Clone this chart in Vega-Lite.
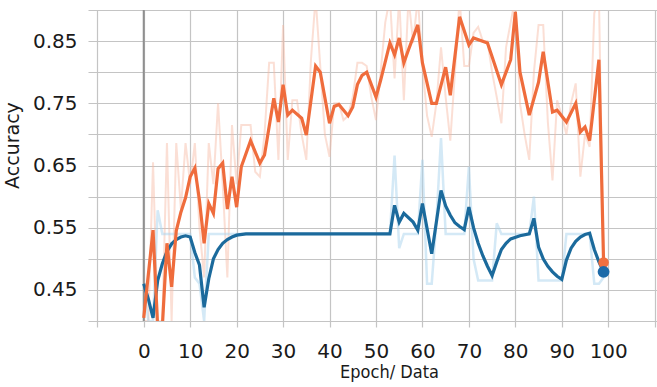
{
  "$schema": "https://vega.github.io/schema/vega-lite/v6.json",
  "width": 569,
  "height": 311,
  "autosize": "none",
  "padding": {"left": 88, "top": 10, "right": 0, "bottom": 66},
  "background": "white",
  "config": {
    "view": {"stroke": null},
    "axis": {
      "labelFont": "DejaVu Sans",
      "labelFontSize": 20,
      "labelColor": "#1a1a1a",
      "titleFont": "DejaVu Sans",
      "titleColor": "#1a1a1a",
      "titleFontWeight": "normal",
      "gridColor": "#c4c4c4",
      "gridWidth": 1.2,
      "gridOpacity": 1,
      "domain": false,
      "tickColor": "#c4c4c4",
      "tickWidth": 1.2
    }
  },
  "datasets": {
    "train_smooth": [
      {"epoch": 0, "accuracy": 0.405}, {"epoch": 2, "accuracy": 0.546}, {"epoch": 3, "accuracy": 0.39}, {"epoch": 4, "accuracy": 0.39},
      {"epoch": 5, "accuracy": 0.525}, {"epoch": 6, "accuracy": 0.455}, {"epoch": 7, "accuracy": 0.545}, {"epoch": 8, "accuracy": 0.575},
      {"epoch": 9, "accuracy": 0.598}, {"epoch": 10, "accuracy": 0.632}, {"epoch": 11, "accuracy": 0.646}, {"epoch": 12, "accuracy": 0.594},
      {"epoch": 13, "accuracy": 0.525}, {"epoch": 14, "accuracy": 0.589}, {"epoch": 15, "accuracy": 0.573}, {"epoch": 16, "accuracy": 0.645},
      {"epoch": 17, "accuracy": 0.654}, {"epoch": 18, "accuracy": 0.58}, {"epoch": 19, "accuracy": 0.632}, {"epoch": 20, "accuracy": 0.583},
      {"epoch": 21, "accuracy": 0.648}, {"epoch": 23, "accuracy": 0.69}, {"epoch": 25, "accuracy": 0.654}, {"epoch": 26, "accuracy": 0.667},
      {"epoch": 28, "accuracy": 0.758}, {"epoch": 29, "accuracy": 0.72}, {"epoch": 30, "accuracy": 0.78}, {"epoch": 31, "accuracy": 0.731},
      {"epoch": 32, "accuracy": 0.739}, {"epoch": 34, "accuracy": 0.726}, {"epoch": 35, "accuracy": 0.699}, {"epoch": 37, "accuracy": 0.81},
      {"epoch": 38, "accuracy": 0.80}, {"epoch": 40, "accuracy": 0.718}, {"epoch": 41, "accuracy": 0.745}, {"epoch": 42, "accuracy": 0.748},
      {"epoch": 44, "accuracy": 0.73}, {"epoch": 45, "accuracy": 0.744}, {"epoch": 46, "accuracy": 0.78}, {"epoch": 47, "accuracy": 0.795},
      {"epoch": 48, "accuracy": 0.80}, {"epoch": 50, "accuracy": 0.76}, {"epoch": 51, "accuracy": 0.787}, {"epoch": 53, "accuracy": 0.847},
      {"epoch": 54, "accuracy": 0.828}, {"epoch": 55, "accuracy": 0.855}, {"epoch": 56, "accuracy": 0.815}, {"epoch": 57, "accuracy": 0.836},
      {"epoch": 59, "accuracy": 0.876}, {"epoch": 60, "accuracy": 0.815}, {"epoch": 62, "accuracy": 0.75}, {"epoch": 63, "accuracy": 0.75},
      {"epoch": 65, "accuracy": 0.808}, {"epoch": 66, "accuracy": 0.763}, {"epoch": 68, "accuracy": 0.889}, {"epoch": 70, "accuracy": 0.844},
      {"epoch": 71, "accuracy": 0.855}, {"epoch": 74, "accuracy": 0.847}, {"epoch": 75, "accuracy": 0.825}, {"epoch": 77, "accuracy": 0.78},
      {"epoch": 79, "accuracy": 0.82}, {"epoch": 80, "accuracy": 0.897}, {"epoch": 81, "accuracy": 0.80}, {"epoch": 83, "accuracy": 0.731},
      {"epoch": 85, "accuracy": 0.784}, {"epoch": 86, "accuracy": 0.833}, {"epoch": 88, "accuracy": 0.736}, {"epoch": 89, "accuracy": 0.739},
      {"epoch": 91, "accuracy": 0.72}, {"epoch": 93, "accuracy": 0.75}, {"epoch": 94, "accuracy": 0.704}, {"epoch": 95, "accuracy": 0.712},
      {"epoch": 96, "accuracy": 0.69}, {"epoch": 98, "accuracy": 0.82}, {"epoch": 99, "accuracy": 0.494}
    ],
    "train_raw": [
      {"epoch": 0, "accuracy": 0.40}, {"epoch": 1, "accuracy": 0.40}, {"epoch": 2, "accuracy": 0.655}, {"epoch": 3, "accuracy": 0.40},
      {"epoch": 4, "accuracy": 0.40}, {"epoch": 5, "accuracy": 0.686}, {"epoch": 6, "accuracy": 0.40}, {"epoch": 7, "accuracy": 0.686},
      {"epoch": 8, "accuracy": 0.58}, {"epoch": 9, "accuracy": 0.686}, {"epoch": 10, "accuracy": 0.62}, {"epoch": 11, "accuracy": 0.686},
      {"epoch": 12, "accuracy": 0.55}, {"epoch": 13, "accuracy": 0.47}, {"epoch": 14, "accuracy": 0.686}, {"epoch": 15, "accuracy": 0.62},
      {"epoch": 16, "accuracy": 0.75}, {"epoch": 17, "accuracy": 0.62}, {"epoch": 18, "accuracy": 0.47}, {"epoch": 19, "accuracy": 0.715},
      {"epoch": 20, "accuracy": 0.62}, {"epoch": 21, "accuracy": 0.715}, {"epoch": 22, "accuracy": 0.715}, {"epoch": 23, "accuracy": 0.715},
      {"epoch": 24, "accuracy": 0.64}, {"epoch": 25, "accuracy": 0.632}, {"epoch": 26, "accuracy": 0.70}, {"epoch": 27, "accuracy": 0.815},
      {"epoch": 28, "accuracy": 0.815}, {"epoch": 29, "accuracy": 0.659}, {"epoch": 30, "accuracy": 0.876}, {"epoch": 31, "accuracy": 0.659},
      {"epoch": 32, "accuracy": 0.755}, {"epoch": 33, "accuracy": 0.755}, {"epoch": 34, "accuracy": 0.70}, {"epoch": 35, "accuracy": 0.659},
      {"epoch": 36, "accuracy": 0.82}, {"epoch": 37, "accuracy": 0.92}, {"epoch": 38, "accuracy": 0.81}, {"epoch": 39, "accuracy": 0.70},
      {"epoch": 40, "accuracy": 0.664}, {"epoch": 41, "accuracy": 0.75}, {"epoch": 42, "accuracy": 0.75}, {"epoch": 43, "accuracy": 0.723},
      {"epoch": 44, "accuracy": 0.73}, {"epoch": 45, "accuracy": 0.76}, {"epoch": 46, "accuracy": 0.815}, {"epoch": 47, "accuracy": 0.815},
      {"epoch": 48, "accuracy": 0.81}, {"epoch": 49, "accuracy": 0.76}, {"epoch": 50, "accuracy": 0.723}, {"epoch": 51, "accuracy": 0.80},
      {"epoch": 52, "accuracy": 0.88}, {"epoch": 53, "accuracy": 0.92}, {"epoch": 54, "accuracy": 0.79}, {"epoch": 55, "accuracy": 0.92},
      {"epoch": 56, "accuracy": 0.755}, {"epoch": 57, "accuracy": 0.92}, {"epoch": 58, "accuracy": 0.847}, {"epoch": 59, "accuracy": 0.92},
      {"epoch": 60, "accuracy": 0.81}, {"epoch": 61, "accuracy": 0.73}, {"epoch": 62, "accuracy": 0.696}, {"epoch": 63, "accuracy": 0.75},
      {"epoch": 64, "accuracy": 0.84}, {"epoch": 65, "accuracy": 0.76}, {"epoch": 66, "accuracy": 0.69}, {"epoch": 67, "accuracy": 0.80},
      {"epoch": 68, "accuracy": 0.92}, {"epoch": 69, "accuracy": 0.81}, {"epoch": 70, "accuracy": 0.81}, {"epoch": 71, "accuracy": 0.863},
      {"epoch": 72, "accuracy": 0.873}, {"epoch": 73, "accuracy": 0.85}, {"epoch": 74, "accuracy": 0.85}, {"epoch": 75, "accuracy": 0.80},
      {"epoch": 76, "accuracy": 0.76}, {"epoch": 77, "accuracy": 0.718}, {"epoch": 78, "accuracy": 0.84}, {"epoch": 79, "accuracy": 0.88},
      {"epoch": 80, "accuracy": 0.92}, {"epoch": 81, "accuracy": 0.75}, {"epoch": 82, "accuracy": 0.70}, {"epoch": 83, "accuracy": 0.659},
      {"epoch": 84, "accuracy": 0.80}, {"epoch": 85, "accuracy": 0.876}, {"epoch": 86, "accuracy": 0.876}, {"epoch": 87, "accuracy": 0.72},
      {"epoch": 88, "accuracy": 0.626}, {"epoch": 89, "accuracy": 0.755}, {"epoch": 90, "accuracy": 0.73}, {"epoch": 91, "accuracy": 0.70},
      {"epoch": 92, "accuracy": 0.75}, {"epoch": 93, "accuracy": 0.782}, {"epoch": 94, "accuracy": 0.632}, {"epoch": 95, "accuracy": 0.70},
      {"epoch": 96, "accuracy": 0.68}, {"epoch": 97, "accuracy": 0.895}, {"epoch": 98, "accuracy": 0.92}, {"epoch": 99, "accuracy": 0.49}
    ],
    "val_smooth": [
      {"epoch": 0, "accuracy": 0.46}, {"epoch": 1, "accuracy": 0.435}, {"epoch": 2, "accuracy": 0.405}, {"epoch": 3, "accuracy": 0.465},
      {"epoch": 4, "accuracy": 0.492}, {"epoch": 5, "accuracy": 0.512}, {"epoch": 6, "accuracy": 0.524}, {"epoch": 7, "accuracy": 0.531},
      {"epoch": 8, "accuracy": 0.535}, {"epoch": 9, "accuracy": 0.537}, {"epoch": 10, "accuracy": 0.535}, {"epoch": 11, "accuracy": 0.51},
      {"epoch": 12, "accuracy": 0.49}, {"epoch": 13, "accuracy": 0.422}, {"epoch": 14, "accuracy": 0.468}, {"epoch": 15, "accuracy": 0.5},
      {"epoch": 16, "accuracy": 0.515}, {"epoch": 17, "accuracy": 0.525}, {"epoch": 18, "accuracy": 0.531}, {"epoch": 19, "accuracy": 0.535},
      {"epoch": 20, "accuracy": 0.538}, {"epoch": 22, "accuracy": 0.54}, {"epoch": 53, "accuracy": 0.54}, {"epoch": 54, "accuracy": 0.586},
      {"epoch": 55, "accuracy": 0.559}, {"epoch": 56, "accuracy": 0.573}, {"epoch": 58, "accuracy": 0.559}, {"epoch": 59, "accuracy": 0.546},
      {"epoch": 60, "accuracy": 0.589}, {"epoch": 62, "accuracy": 0.508}, {"epoch": 64, "accuracy": 0.61}, {"epoch": 65, "accuracy": 0.585},
      {"epoch": 66, "accuracy": 0.57}, {"epoch": 67, "accuracy": 0.558}, {"epoch": 68, "accuracy": 0.552}, {"epoch": 69, "accuracy": 0.547},
      {"epoch": 70, "accuracy": 0.583}, {"epoch": 71, "accuracy": 0.55}, {"epoch": 72, "accuracy": 0.525}, {"epoch": 73, "accuracy": 0.505},
      {"epoch": 74, "accuracy": 0.488}, {"epoch": 75, "accuracy": 0.473}, {"epoch": 76, "accuracy": 0.495}, {"epoch": 77, "accuracy": 0.515},
      {"epoch": 78, "accuracy": 0.525}, {"epoch": 79, "accuracy": 0.532}, {"epoch": 81, "accuracy": 0.537}, {"epoch": 83, "accuracy": 0.54},
      {"epoch": 84, "accuracy": 0.565}, {"epoch": 85, "accuracy": 0.519}, {"epoch": 86, "accuracy": 0.5}, {"epoch": 87, "accuracy": 0.488},
      {"epoch": 88, "accuracy": 0.479}, {"epoch": 89, "accuracy": 0.472}, {"epoch": 90, "accuracy": 0.467}, {"epoch": 91, "accuracy": 0.498},
      {"epoch": 92, "accuracy": 0.517}, {"epoch": 93, "accuracy": 0.528}, {"epoch": 94, "accuracy": 0.535}, {"epoch": 95, "accuracy": 0.539},
      {"epoch": 96, "accuracy": 0.541}, {"epoch": 97, "accuracy": 0.515}, {"epoch": 98, "accuracy": 0.495}, {"epoch": 99, "accuracy": 0.479}
    ],
    "val_raw": [
      {"epoch": 0, "accuracy": 0.46}, {"epoch": 1, "accuracy": 0.40}, {"epoch": 2, "accuracy": 0.40}, {"epoch": 3, "accuracy": 0.578},
      {"epoch": 4, "accuracy": 0.54}, {"epoch": 10, "accuracy": 0.54}, {"epoch": 11, "accuracy": 0.47}, {"epoch": 12, "accuracy": 0.46},
      {"epoch": 13, "accuracy": 0.40}, {"epoch": 14, "accuracy": 0.54}, {"epoch": 53, "accuracy": 0.54}, {"epoch": 54, "accuracy": 0.666},
      {"epoch": 55, "accuracy": 0.517}, {"epoch": 56, "accuracy": 0.54}, {"epoch": 59, "accuracy": 0.54}, {"epoch": 60, "accuracy": 0.659},
      {"epoch": 61, "accuracy": 0.46}, {"epoch": 62, "accuracy": 0.46}, {"epoch": 63, "accuracy": 0.56}, {"epoch": 64, "accuracy": 0.694},
      {"epoch": 65, "accuracy": 0.54}, {"epoch": 69, "accuracy": 0.54}, {"epoch": 70, "accuracy": 0.648}, {"epoch": 71, "accuracy": 0.50},
      {"epoch": 72, "accuracy": 0.465}, {"epoch": 75, "accuracy": 0.465}, {"epoch": 76, "accuracy": 0.557}, {"epoch": 77, "accuracy": 0.54},
      {"epoch": 83, "accuracy": 0.54}, {"epoch": 84, "accuracy": 0.60}, {"epoch": 85, "accuracy": 0.465}, {"epoch": 90, "accuracy": 0.465},
      {"epoch": 91, "accuracy": 0.54}, {"epoch": 96, "accuracy": 0.54}, {"epoch": 97, "accuracy": 0.46}, {"epoch": 98, "accuracy": 0.46},
      {"epoch": 99, "accuracy": 0.47}
    ]
  },
  "encoding": {
    "x": {
      "field": "epoch", "type": "quantitative",
      "scale": {"domain": [-12, 110.5], "nice": false, "zero": false},
      "axis": {
        "values": [-10, 0, 10, 20, 30, 40, 50, 60, 70, 80, 90, 100, 110],
        "labelExpr": "datum.value >= 0 && datum.value <= 100 ? datum.label : ''",
        "tickSize": 6,
        "labelPadding": 14,
        "labelBaseline": "top",
        "title": "Epoch/ Data",
        "titleFont": "DejaVu Sans Condensed",
        "titleFontSize": 18,
        "titleX": 301,
        "titleY": 42,
        "titleAnchor": "middle",
        "titleAlign": "center",
        "titleBaseline": "top"
      }
    },
    "y": {
      "field": "accuracy", "type": "quantitative",
      "scale": {"domain": [0.4, 0.9], "nice": false, "zero": false},
      "axis": {
        "values": [0.4, 0.45, 0.5, 0.55, 0.6, 0.65, 0.7, 0.75, 0.8, 0.85, 0.9],
        "labelExpr": "(round(datum.value * 100) % 10 == 5) ? format(datum.value, '.2f') : ''",
        "ticks": false,
        "labelPadding": 11,
        "title": "Accuracy",
        "titleFontSize": 19,
        "titleX": -76,
        "titleY": 135,
        "titleAngle": -90,
        "titleAlign": "center",
        "titleBaseline": "middle"
      }
    }
  },
  "layer": [
    {
      "data": {"name": "train_raw"},
      "mark": {"type": "line", "color": "#f6b8a2", "strokeWidth": 2, "opacity": 0.45, "clip": true}
    },
    {
      "data": {"name": "val_raw"},
      "mark": {"type": "line", "color": "#a9d3ee", "strokeWidth": 2.5, "opacity": 0.5, "clip": true}
    },
    {
      "data": {"name": "val_raw"},
      "transform": [{"filter": "datum.epoch == 0"}],
      "mark": {"type": "rule", "color": "#8f8f8f", "strokeWidth": 2},
      "encoding": {
        "y": {"datum": 0.4, "type": "quantitative"},
        "y2": {"datum": 0.9}
      }
    },
    {
      "data": {"name": "val_smooth"},
      "mark": {"type": "line", "color": "#1b6a9c", "strokeWidth": 3.2, "clip": true}
    },
    {
      "data": {"name": "train_smooth"},
      "mark": {"type": "line", "color": "#ef6c3c", "strokeWidth": 3.2, "clip": true}
    },
    {
      "data": {"name": "train_smooth"},
      "transform": [{"filter": "datum.epoch == 99"}],
      "mark": {"type": "circle", "color": "#f07040", "size": 110, "opacity": 1}
    },
    {
      "data": {"name": "val_smooth"},
      "transform": [{"filter": "datum.epoch == 99"}],
      "mark": {"type": "circle", "color": "#1c6aa8", "size": 140, "opacity": 1}
    }
  ]
}
